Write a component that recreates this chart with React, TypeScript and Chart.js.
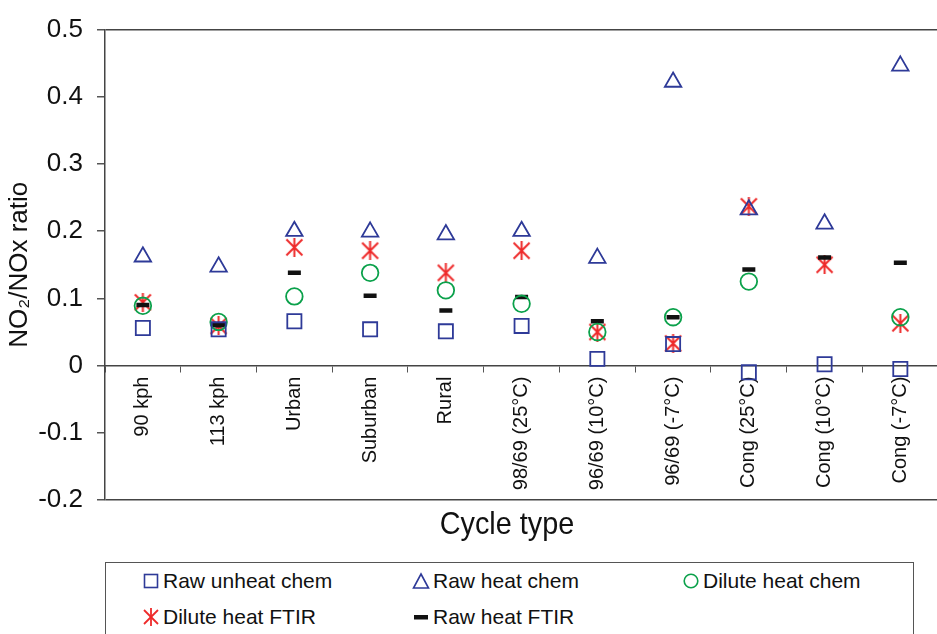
import React, { useEffect, useRef } from 'react';
import { Chart, registerables } from 'chart.js';

Chart.register(...registerables);

const categories = [
  '90 kph', '113 kph', 'Urban', 'Suburban', 'Rural', '98/69 (25°C)',
  '96/69 (10°C)', '96/69 (-7°C)', 'Cong (25°C)', 'Cong (10°C)', 'Cong (-7°C)',
];
const rawUnheatChem = [0.056, 0.054, 0.066, 0.054, 0.051, 0.059, 0.010, 0.032, -0.010, 0.002, -0.005];
const rawHeatChem = [0.162, 0.147, 0.200, 0.199, 0.195, 0.200, 0.160, 0.422, 0.232, 0.211, 0.446];
const diluteHeatChem = [0.089, 0.065, 0.103, 0.138, 0.112, 0.092, 0.050, 0.072, 0.125, null, 0.072];
const diluteHeatFTIR = [0.094, 0.059, 0.176, 0.171, 0.138, 0.171, 0.050, 0.033, 0.237, 0.150, 0.063];
const rawHeatFTIR = [0.090, 0.060, 0.138, 0.104, 0.082, 0.102, 0.066, 0.072, 0.143, 0.161, 0.153];

const yMin = -0.2;
const yMax = 0.5;
const yStep = 0.1;

const BLUE = '#2E3A98';
const GREEN = '#0BA14B';
const RED = '#EE2A2A';
const BLACK = '#111111';
const FONT = "'Liberation Sans', Arial, Helvetica, sans-serif";

function makeStar(size: number, color: string): HTMLCanvasElement {
  const c = document.createElement('canvas');
  c.width = size;
  c.height = size;
  const g = c.getContext('2d')!;
  g.strokeStyle = color;
  g.lineWidth = 2;
  const m = 1.5;
  g.beginPath();
  g.moveTo(m, m);
  g.lineTo(size - m, size - m);
  g.moveTo(size - m, m);
  g.lineTo(m, size - m);
  g.moveTo(size / 2, 0);
  g.lineTo(size / 2, size);
  g.stroke();
  return c;
}

const xTitlePlugin = {
  id: 'xTitle',
  afterDraw(chart: any) {
    const { ctx, chartArea } = chart;
    ctx.save();
    ctx.font = `32px ${FONT}`;
    ctx.fillStyle = BLACK;
    ctx.textAlign = 'center';
    ctx.textBaseline = 'middle';
    ctx.translate(chartArea.left + 402, chartArea.bottom + 25);
    ctx.scale(0.9, 1);
    ctx.fillText('Cycle type', 0, 0);
    ctx.restore();
  },
};

function LegendMarker({ kind }: { kind: string }) {
  const s = 18;
  let el: any = null;
  if (kind === 'square') el = <rect x={2.5} y={2.5} width={13} height={13} fill="none" stroke={BLUE} strokeWidth={1.6} />;
  if (kind === 'triangle') el = <polygon points="9,2 16.5,16 1.5,16" fill="none" stroke={BLUE} strokeWidth={1.6} />;
  if (kind === 'circle') el = <circle cx={9} cy={9} r={6.8} fill="none" stroke={GREEN} strokeWidth={1.6} />;
  if (kind === 'star') el = (
    <g stroke={RED} strokeWidth={1.8}>
      <line x1={2} y1={2} x2={16} y2={16} />
      <line x1={16} y1={2} x2={2} y2={16} />
      <line x1={9} y1={0} x2={9} y2={18} />
    </g>
  );
  if (kind === 'dash') el = <rect x={2} y={7} width={14} height={4.5} fill={BLACK} />;
  return (
    <svg width={s} height={s} style={{ display: 'block' }}>
      {el}
    </svg>
  );
}

const legendItems = [
  { label: 'Raw unheat chem', kind: 'square', left: 36, top: 6 },
  { label: 'Raw heat chem', kind: 'triangle', left: 306, top: 6 },
  { label: 'Dilute heat chem', kind: 'circle', left: 576, top: 6 },
  { label: 'Dilute heat FTIR', kind: 'star', left: 36, top: 42 },
  { label: 'Raw heat FTIR', kind: 'dash', left: 306, top: 42 },
];

export default function App() {
  const ref = useRef<HTMLCanvasElement | null>(null);

  useEffect(() => {
    document.body.style.margin = '0';
    document.body.style.overflow = 'hidden';
    const canvas = ref.current!;
    const star = makeStar(19, RED);
    const near = (a: number, b: number) => Math.abs(a - b) < 1e-6;

    const chart = new Chart(canvas, {
      type: 'line',
      data: {
        labels: categories,
        datasets: [
          {
            label: 'Raw unheat chem', data: rawUnheatChem as any, showLine: false,
            pointStyle: 'rect', pointRadius: 10, pointBorderWidth: 1.8,
            pointBorderColor: BLUE, pointBackgroundColor: 'transparent',
          },
          {
            label: 'Raw heat chem', data: rawHeatChem as any, showLine: false,
            pointStyle: 'triangle', pointRadius: 9.5, pointBorderWidth: 1.8,
            pointBorderColor: BLUE, pointBackgroundColor: 'transparent',
          },
          {
            label: 'Dilute heat chem', data: diluteHeatChem as any, showLine: false,
            pointStyle: 'circle', pointRadius: 8.3, pointBorderWidth: 1.8,
            pointBorderColor: GREEN, pointBackgroundColor: 'transparent',
          },
          {
            label: 'Raw heat FTIR', data: rawHeatFTIR as any, showLine: false,
            pointStyle: 'line', pointRadius: 6.5, pointBorderWidth: 4.5,
            pointBorderColor: BLACK, pointBackgroundColor: BLACK,
          },
          {
            label: 'Dilute heat FTIR', data: diluteHeatFTIR as any, showLine: false,
            pointStyle: star as any, pointRadius: 9.5, pointBorderWidth: 0,
            pointBorderColor: RED, pointBackgroundColor: RED,
          },
        ],
      },
      options: {
        responsive: false,
        animation: false,
        events: [],
        layout: { padding: { top: 24, left: 0, right: 3, bottom: 56 } },
        plugins: {
          legend: { display: false },
          tooltip: { enabled: false },
          title: { display: false },
        },
        scales: {
          x: {
            type: 'category',
            position: { y: 0 } as any,
            offset: true,
            grid: {
              display: true, offset: true, drawOnChartArea: false, drawTicks: true,
              tickLength: 6, tickColor: '#555', color: '#555',
            },
            border: { display: true, color: '#444', width: 1.5 },
            ticks: {
              autoSkip: false, minRotation: 90, maxRotation: 90, padding: 5,
              color: BLACK, font: { family: FONT, size: 20 },
            },
          },
          y: {
            type: 'linear',
            min: yMin,
            max: yMax,
            afterFit: (s: any) => { s.width = 105; },
            ticks: {
              stepSize: yStep, padding: 14, color: BLACK,
              font: { family: FONT, size: 26 },
              callback: (v: any) => (Math.abs(v) < 1e-9 ? '0' : Number(v).toFixed(1)),
            },
            grid: {
              drawOnChartArea: true, drawTicks: true, tickLength: 8, tickColor: '#555',
              lineWidth: 1.5,
              color: (ctx: any) => (ctx.tick && (near(ctx.tick.value, yMax) || near(ctx.tick.value, yMin)) ? '#444' : 'rgba(0,0,0,0)'),
            },
            border: { display: true, color: '#444', width: 1.5 },
            title: {
              display: true, text: 'NO₂/NOx ratio', color: BLACK,
              font: { family: FONT, size: 26 }, padding: { top: 4, bottom: 0 },
            },
          },
        },
      },
      plugins: [xTitlePlugin],
    });
    return () => chart.destroy();
  }, []);

  return (
    <div style={{ position: 'relative', width: 937, height: 634, overflow: 'hidden', fontFamily: FONT }}>
      <canvas ref={ref} width={950} height={556} style={{ position: 'absolute', left: 0, top: 0 }} />
      <div
        style={{
          position: 'absolute', left: 105, top: 562, width: 809, height: 90,
          border: '1px solid #555', boxSizing: 'border-box',
        }}
      >
        {legendItems.map((it) => (
          <div
            key={it.label}
            style={{
              position: 'absolute', left: it.left, top: it.top, display: 'flex',
              alignItems: 'center', gap: 3, fontSize: 21, color: BLACK, whiteSpace: 'nowrap',
            }}
          >
            <LegendMarker kind={it.kind} />
            <span>{it.label}</span>
          </div>
        ))}
      </div>
    </div>
  );
}
